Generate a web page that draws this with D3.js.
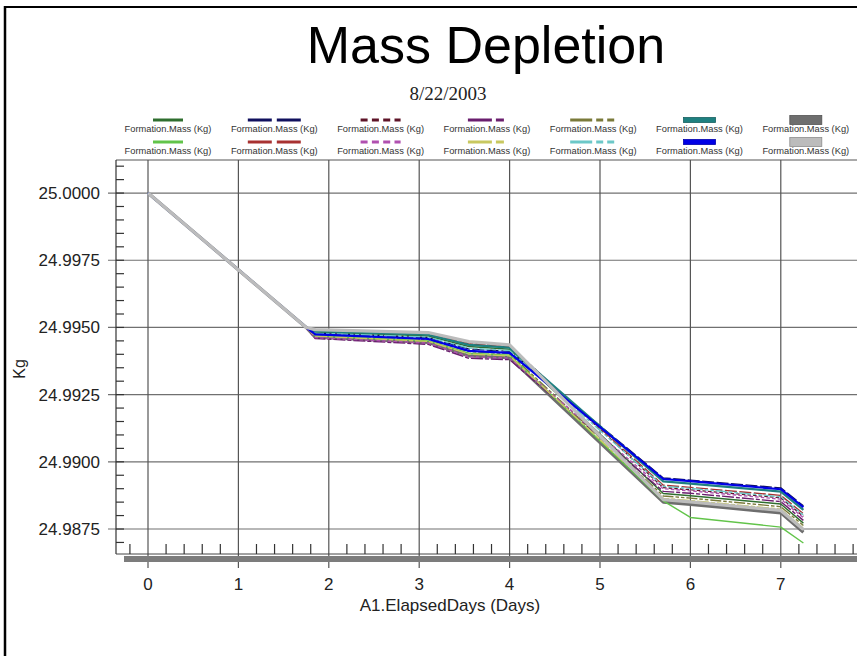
<!DOCTYPE html>
<html>
<head>
<meta charset="utf-8">
<script src="https://cdn.jsdelivr.net/npm/d3@7"></script>
<style>
	body { margin: 0; background: #fff; }
	svg { display: block; font-family: Arial, "Liberation Sans", sans-serif; }
</style>
</head>
<body>
<svg id="chart" width="857" height="656"></svg>
<script>
// elapsed days shared by every series
const days = [0, 1.75, 1.85, 3.1, 3.55, 4.0, 5.7, 6.0, 7.0, 7.25]

// Formation.Mass (Kg) per run
const massDarkGreen = [25.0, 24.995, 24.99483, 24.99468, 24.99429, 24.99419, 24.98882, 24.98874, 24.98843, 24.98772]
const massNavy      = [25.0, 24.995, 24.99478, 24.99462, 24.99420, 24.99411, 24.98940, 24.98932, 24.98903, 24.98836]
const massMaroon    = [25.0, 24.995, 24.99490, 24.99478, 24.99443, 24.99432, 24.98904, 24.98896, 24.98866, 24.98797]
const massPurple    = [25.0, 24.995, 24.99459, 24.99437, 24.99385, 24.99380, 24.98890, 24.98883, 24.98852, 24.98782]
const massOlive     = [25.0, 24.995, 24.99473, 24.99455, 24.99410, 24.99402, 24.98873, 24.98865, 24.98833, 24.98763]
const massTeal      = [25.0, 24.995, 24.99486, 24.99473, 24.99435, 24.99425, 24.98927, 24.98919, 24.98889, 24.98821]
const massDarkGray  = [25.0, 24.995, 24.99464, 24.99444, 24.99394, 24.99388, 24.98850, 24.98842, 24.98810, 24.98738]
const massGreen     = [25.0, 24.995, 24.99469, 24.99450, 24.99404, 24.99397, 24.98855, 24.98793, 24.98757, 24.98698]
const massRed       = [25.0, 24.995, 24.99488, 24.99475, 24.99439, 24.99428, 24.98913, 24.98905, 24.98875, 24.98807]
const massMagenta   = [25.0, 24.995, 24.99462, 24.99442, 24.99391, 24.99386, 24.98900, 24.98892, 24.98861, 24.98792]
const massYellow    = [25.0, 24.995, 24.99468, 24.99448, 24.99401, 24.99394, 24.98864, 24.98856, 24.98824, 24.98753]
const massCyan      = [25.0, 24.995, 24.99479, 24.99464, 24.99423, 24.99414, 24.98909, 24.98901, 24.98870, 24.98802]
const massBlue      = [25.0, 24.995, 24.99474, 24.99457, 24.99413, 24.99405, 24.98936, 24.98928, 24.98898, 24.98831]
const massLightGray = [25.0, 24.995, 24.99492, 24.99481, 24.99447, 24.99435, 24.98859, 24.98851, 24.98819, 24.98748]

const seriesName = "Formation.Mass (Kg)"
const yTickValues = [24.9875, 24.99, 24.9925, 24.995, 24.9975, 25.0]
const xTickValues = [0, 1, 2, 3, 4, 5, 6, 7]

// legend order, row by row; style: colour, dash, width, kind of swatch
const series = [
	{ values: massDarkGreen, color: "#2f6e2f", dash: null, w: 1.4, sw: 30, kind: "line" },
	{ values: massNavy, color: "#10105e", dash: "24,5", w: 1.4, sw: 53, kind: "line" },
	{ values: massMaroon, color: "#5e1428", dash: "7,4.3", w: 1.4, sw: 40, kind: "line" },
	{ values: massPurple, color: "#6a1e6e", dash: "24,4,8,4", w: 1.4, sw: 38, kind: "line" },
	{ values: massOlive, color: "#7a7a3a", dash: "22,4,7,4,7,4", w: 1.4, sw: 46, kind: "line" },
	{ values: massTeal, color: "#1e8080", dash: null, w: 2.2, sw: 32, kind: "bar5" },
	{ values: massDarkGray, color: "#6e6e6e", dash: null, w: 3.2, sw: 32, kind: "bar8" },
	{ values: massGreen, color: "#62c44a", dash: null, w: 1.4, sw: 30, kind: "line" },
	{ values: massRed, color: "#a83232", dash: "24,5", w: 1.4, sw: 53, kind: "line" },
	{ values: massMagenta, color: "#b050b0", dash: "7,4.3", w: 1.4, sw: 40, kind: "line" },
	{ values: massYellow, color: "#c8c860", dash: "24,4,8,4", w: 1.4, sw: 38, kind: "line" },
	{ values: massCyan, color: "#6cc8c8", dash: "22,4,7,4,7,4", w: 1.4, sw: 46, kind: "line" },
	{ values: massBlue, color: "#0000e6", dash: null, w: 2.2, sw: 32, kind: "bar5" },
	{ values: massLightGray, color: "#bcbcbc", dash: null, w: 3.2, sw: 32, kind: "bar8" }
]
// thick grey runs go under / over the thin ones like in the original
const drawOrder = [6, 0, 1, 2, 3, 4, 7, 8, 9, 10, 11, 5, 12, 13]

var svg = d3.select("#chart")

var xScale = d3.scaleLinear().domain([-0.354, 7.843]).range([116, 857]),
	yScale = d3.scaleLinear().domain([24.98657, 25.00123]).range([554, 160])

// frame
svg.append("line").attr("x1", 5).attr("x2", 857).attr("y1", 7).attr("y2", 7)
	.attr("stroke", "#000").attr("stroke-width", 2)
svg.append("line").attr("x1", 5).attr("x2", 5).attr("y1", 6).attr("y2", 656)
	.attr("stroke", "#000").attr("stroke-width", 2.5)

svg.append("text")
	.attr("x", 486)
	.attr("y", 63)
	.attr("text-anchor", "middle")
	.attr("font-size", "52px")
	.attr("fill", "#000")
	.text("Mass Depletion")

svg.append("text")
	.attr("x", 448)
	.attr("y", 100)
	.attr("text-anchor", "middle")
	.attr("font-family", "'Liberation Serif', 'Times New Roman', serif")
	.attr("font-size", "19px")
	.attr("fill", "#222")
	.text("8/22/2003")

// legend: 7 columns, 2 rows
var legend = svg.append("g")
series.forEach(function(s, i) {
	var col = i % 7, row = Math.floor(i / 7)
	var cx = 168 + col * 106.3
	var sy = 120 + row * 22
	if (s.kind === "line") {
		legend.append("line")
			.attr("x1", cx - s.sw / 2).attr("x2", cx + s.sw / 2)
			.attr("y1", sy).attr("y2", sy)
			.attr("stroke", s.color)
			.attr("stroke-width", 3)
			.attr("stroke-dasharray", s.dash)
	} else {
		var h = s.kind === "bar5" ? 5 : 9
		legend.append("rect")
			.attr("x", cx - s.sw / 2).attr("y", sy - h / 2)
			.attr("width", s.sw).attr("height", h)
			.attr("fill", s.color)
			.attr("stroke", d3.color(s.color).darker(0.8))
			.attr("stroke-width", 0.8)
	}
	legend.append("text")
		.attr("x", cx)
		.attr("y", sy + 11.5)
		.attr("text-anchor", "middle")
		.attr("font-size", "9.3px")
		.attr("fill", "#333")
		.text(seriesName)
})

// grid
svg.append("g").selectAll("line")
	.data(yTickValues)
	.enter().append("line")
	.attr("x1", 108).attr("x2", 857)
	.attr("y1", function(d) { return yScale(d) }).attr("y2", function(d) { return yScale(d) })
	.attr("stroke", "#707070").attr("stroke-width", 1.2)

svg.append("g").selectAll("line")
	.data(xTickValues)
	.enter().append("line")
	.attr("x1", function(d) { return xScale(d) }).attr("x2", function(d) { return xScale(d) })
	.attr("y1", 160).attr("y2", 568)
	.attr("stroke", "#555").attr("stroke-width", 1.2)

// plot border top and left axis
svg.append("line").attr("x1", 116).attr("x2", 857).attr("y1", 160).attr("y2", 160)
	.attr("stroke", "#555").attr("stroke-width", 1)
svg.append("line").attr("x1", 116).attr("x2", 116).attr("y1", 160).attr("y2", 554)
	.attr("stroke", "#333").attr("stroke-width", 1.2)
svg.append("line").attr("x1", 116).attr("x2", 857).attr("y1", 554).attr("y2", 554)
	.attr("stroke", "#444").attr("stroke-width", 1)
svg.append("rect").attr("x", 124).attr("y", 556).attr("width", 733).attr("height", 6)
	.attr("fill", "#7c7c7c")

// minor ticks
var yMinor = d3.range(0, 29).map(function(i) { return 24.987 + i * 0.0005 })
svg.append("g").selectAll("line")
	.data(yMinor)
	.enter().append("line")
	.attr("x1", 116).attr("x2", 124)
	.attr("y1", function(d) { return yScale(d) }).attr("y2", function(d) { return yScale(d) })
	.attr("stroke", "#333").attr("stroke-width", 1.2)

var xMinor = d3.range(-1, 40).map(function(i) { return i * 0.2 })
	.filter(function(d) { return Math.abs(d - Math.round(d)) > 0.01 })
svg.append("g").selectAll("line")
	.data(xMinor)
	.enter().append("line")
	.attr("x1", function(d) { return xScale(d) }).attr("x2", function(d) { return xScale(d) })
	.attr("y1", 544).attr("y2", 554)
	.attr("stroke", "#333").attr("stroke-width", 1.2)

// tick labels
svg.append("g").selectAll("text")
	.data(yTickValues)
	.enter().append("text")
	.attr("x", 100)
	.attr("y", function(d) { return yScale(d) + 6 })
	.attr("text-anchor", "end")
	.attr("font-size", "17px")
	.attr("fill", "#222")
	.text(function(d) { return d3.format(".4f")(d) })

svg.append("g").selectAll("text")
	.data(xTickValues)
	.enter().append("text")
	.attr("x", function(d) { return xScale(d) })
	.attr("y", 590)
	.attr("text-anchor", "middle")
	.attr("font-size", "17px")
	.attr("fill", "#222")
	.text(function(d) { return d })

svg.append("text")
	.attr("x", 450)
	.attr("y", 611)
	.attr("text-anchor", "middle")
	.attr("font-size", "17px")
	.attr("fill", "#222")
	.text("A1.ElapsedDays (Days)")

svg.append("text")
	.attr("transform", "translate(25,369) rotate(-90)")
	.attr("text-anchor", "middle")
	.attr("font-size", "16px")
	.attr("fill", "#222")
	.text("Kg")

// series lines
var line = d3.line()
	.x(function(d, i) { return xScale(days[i]) })
	.y(function(d) { return yScale(d) })

svg.append("g").selectAll("path")
	.data(drawOrder.map(function(i) { return series[i] }))
	.enter().append("path")
	.attr("d", function(s) { return line(s.values) })
	.attr("fill", "none")
	.attr("stroke", function(s) { return s.color })
	.attr("stroke-width", function(s) { return s.w })
	.attr("stroke-dasharray", function(s) { return s.dash ? s.dash.split(",").map(function(v) { return v * 0.5 }).join(",") : null })
	.attr("stroke-linejoin", "round")
</script>
</body>
</html>
